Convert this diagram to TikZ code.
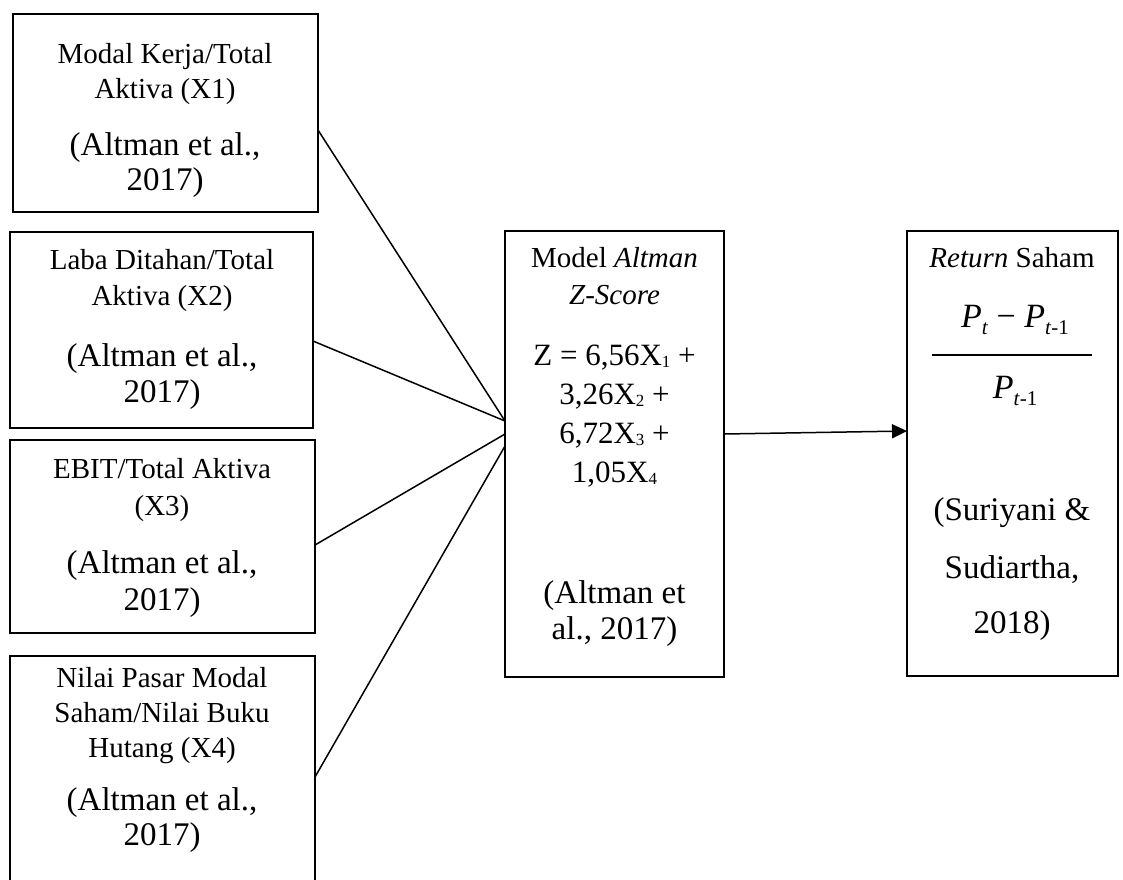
\documentclass[tikz,border=0pt]{standalone}
\usepackage{fontspec}
\setmainfont{Liberation Serif}
\usetikzlibrary{arrows.meta}
\newcommand\lowsub[1]{\raisebox{-0.08em}{\fontsize{17}{17}\selectfont #1}}
\newcommand\fsub[1]{\raisebox{-0.22em}{\fontsize{21}{21}\selectfont #1}}
\tikzset{
  box/.style={draw, line width=2.6pt, inner sep=0pt, outer sep=0pt},
  conn/.style={line width=1.5pt},
  ttl/.style={anchor=base, inner sep=0pt, font=\fontsize{29}{29}\selectfont},
  cit/.style={anchor=base, inner sep=0pt, font=\fontsize{33}{33}\selectfont},
  frm/.style={anchor=base, inner sep=0pt, font=\fontsize{31}{31}\selectfont},
  frc/.style={anchor=base, inner sep=0pt, font=\fontsize{34}{34}\selectfont},
}
\begin{document}
\begin{tikzpicture}[x=1pt,y=-1pt]
\useasboundingbox (0,0) rectangle (1123,879);
\clip (0,0) rectangle (1123,879);
% boxes
\node[box, minimum width=305pt, minimum height=198pt] (b1) at (165.5,113) {};
\node[box, minimum width=303pt, minimum height=196pt] (b2) at (161.5,330) {};
\node[box, minimum width=305pt, minimum height=193pt] (b3) at (162.5,536.5) {};
\node[box, minimum width=305pt, minimum height=264pt] (b4) at (162.5,788) {};
\node[box, minimum width=219pt, minimum height=446pt] (mid) at (614.5,454) {};
\node[box, minimum width=211pt, minimum height=445pt] (res) at (1012.5,453.5) {};
% box 1 text
\node[ttl] (t1a) at (165,63) {Modal Kerja/Total};
\node[ttl] (t1b) at (165,98) {Aktiva (X1)};
\node[cit] (t1c) at (165,155) {(Altman et al.,};
\node[cit] (t1d) at (165,190) {2017)};
% box 2 text
\node[ttl] (t2a) at (162,269) {Laba Ditahan/Total};
\node[ttl] (t2b) at (162,305) {Aktiva (X2)};
\node[cit] (t2c) at (162,366) {(Altman et al.,};
\node[cit] (t2d) at (162,402) {2017)};
% box 3 text
\node[ttl] (t3a) at (162,478) {EBIT/Total Aktiva};
\node[ttl] (t3b) at (162,515) {(X3)};
\node[cit] (t3c) at (162,573) {(Altman et al.,};
\node[cit] (t3d) at (162,610) {2017)};
% box 4 text
\node[ttl] (t4a) at (162,687) {Nilai Pasar Modal};
\node[ttl] (t4b) at (162,722) {Saham/Nilai Buku};
\node[ttl] (t4c) at (162,757) {Hutang (X4)};
\node[cit] (t4d) at (162,810) {(Altman et al.,};
\node[cit] (t4e) at (162,845) {2017)};
% middle text
\node[ttl] (m1) at (614.5,267) {Model \textit{Altman}};
\node[ttl] (m2) at (614.5,304) {\textit{Z-Score}};
\node[frm] (m3) at (614.5,365) {Z = 6,56X\lowsub{1} +};
\node[frm] (m4) at (614.5,404) {3,26X\lowsub{2} +};
\node[frm] (m5) at (614.5,443) {6,72X\lowsub{3} +};
\node[frm] (m6) at (614.5,482) {1,05X\lowsub{4}};
\node[cit] (m7) at (614.5,603) {(Altman et};
\node[cit] (m8) at (614.5,639) {al., 2017)};
% right text
\node[ttl] (r1) at (1012,267) {\textit{Return} Saham};
\node[frc] (rn) at (1015,327) {\textit{P}\fsub{\textit{t}} − \textit{P}\fsub{\textit{t}-1}};
\coordinate (rl) at (932,355);
\coordinate (rr) at (1092,355);
\draw[line width=1.4pt] (rl) -- (rr);
\node[frc] (rd) at (1015,398) {\textit{P}\fsub{\textit{t}-1}};
\node[cit] (r2) at (1012,520) {(Suriyani \&};
\node[cit] (r3) at (1012,578) {Sudiartha,};
\node[cit] (r4) at (1012,633) {2018)};
% connectors
\draw[conn] ([yshift=-17pt]b1.east) -- ([yshift=33pt]mid.west);
\draw[conn] ([yshift=-11pt]b2.east) -- ([yshift=33pt]mid.west);
\draw[conn] ([yshift=-8.5pt]b3.east) -- ([yshift=20pt]mid.west);
\draw[conn] ([yshift=11pt]b4.east) -- ([yshift=8pt]mid.west);
\draw[conn, -{Triangle[length=15pt,width=14pt]}] ([yshift=20pt]mid.east) -- ([yshift=22.5pt]res.west);
\end{tikzpicture}
\end{document}
